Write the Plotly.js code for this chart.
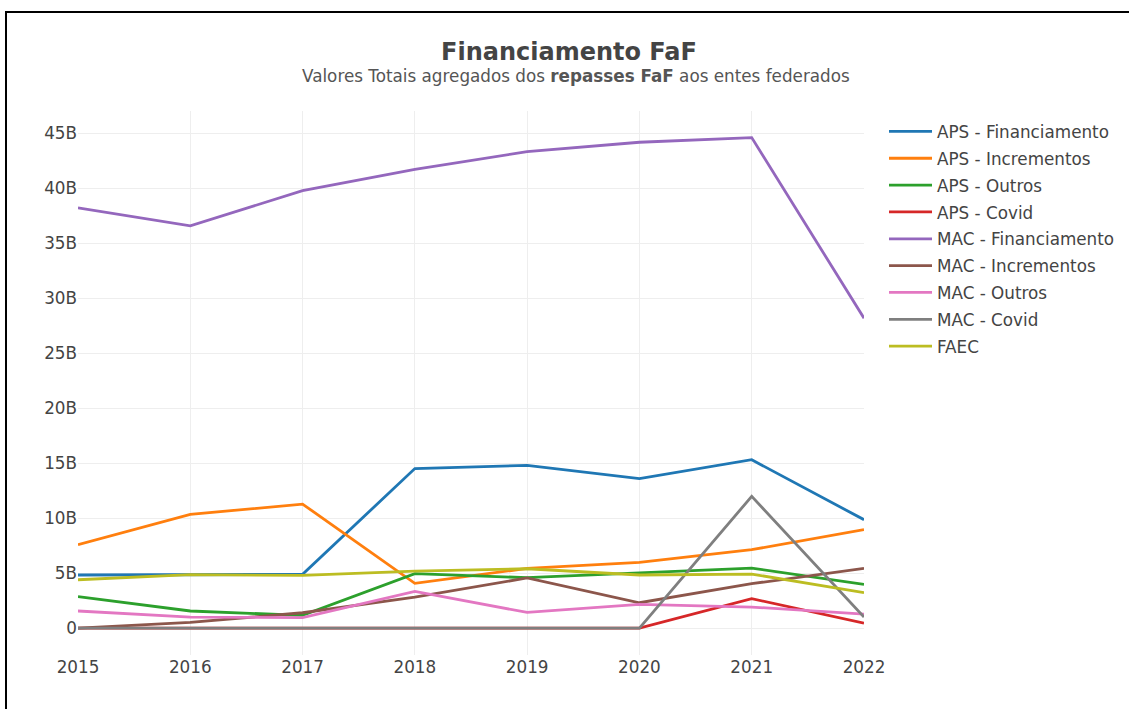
<!DOCTYPE html>
<html>
<head>
<meta charset="utf-8">
<script src="https://cdn.plot.ly/plotly-3.0.1.min.js"></script>
<style>
  html, body { margin: 0; padding: 0; background: #fff; overflow: hidden; }
  #chart { position: absolute; left: 0; top: 0; width: 1129px; height: 709px; }
  #frame { position: absolute; left: 5px; top: 11px; width: 1200px; height: 800px;
           border-top: 2px solid #000; border-left: 2px solid #000; pointer-events: none; }
</style>
</head>
<body>
<div id="chart"></div>
<div id="frame"></div>
<script>
const years = [2015, 2016, 2017, 2018, 2019, 2020, 2021, 2022];

const apsFinanciamento = [4.82e9, 4.88e9, 4.88e9, 14.5e9, 14.79e9, 13.58e9, 15.3e9, 9.85e9];
const apsIncrementos   = [7.58e9, 10.33e9, 11.27e9, 4.06e9, 5.42e9, 5.97e9, 7.12e9, 8.94e9];
const apsOutros        = [2.85e9, 1.55e9, 1.15e9, 4.94e9, 4.58e9, 5.0e9, 5.45e9, 3.97e9];
const apsCovid         = [0, 0, 0, 0, 0, 0, 2.67e9, 0.45e9];
const macFinanciamento = [38.2e9, 36.56e9, 39.76e9, 41.7e9, 43.3e9, 44.16e9, 44.58e9, 28.17e9];
const macIncrementos   = [0, 0.52e9, 1.39e9, 2.82e9, 4.55e9, 2.3e9, 4.03e9, 5.42e9];
const macOutros        = [1.55e9, 1.0e9, 0.94e9, 3.33e9, 1.42e9, 2.15e9, 1.91e9, 1.27e9];
const macCovid         = [0, 0, 0, 0, 0, 0, 11.97e9, 1.0e9];
const faec             = [4.39e9, 4.85e9, 4.79e9, 5.18e9, 5.39e9, 4.82e9, 4.91e9, 3.21e9];

const seriesNames = ["APS - Financiamento", "APS - Incrementos", "APS - Outros", "APS - Covid",
  "MAC - Financiamento", "MAC - Incrementos", "MAC - Outros", "MAC - Covid", "FAEC"];
const seriesValues = [apsFinanciamento, apsIncrementos, apsOutros, apsCovid,
  macFinanciamento, macIncrementos, macOutros, macCovid, faec];
const colors = ["#1f77b4", "#ff7f0e", "#2ca02c", "#d62728", "#9467bd",
  "#8c564b", "#e377c2", "#7f7f7f", "#bcbd22"];

const traces = seriesNames.map((name, i) => ({
  type: "scatter",
  mode: "lines",
  name: name,
  x: years,
  y: seriesValues[i],
  line: { color: colors[i], width: 2.8 },
  legendgroup: "g" + i
}));

const font = { family: "DejaVu Sans, Verdana, sans-serif", size: 16.8, color: "#444" };

const layout = {
  width: 1129,
  height: 709,
  paper_bgcolor: "#fff",
  plot_bgcolor: "#fff",
  font: font,
  margin: { l: 78, r: 265, t: 111, b: 54, pad: 0, autoexpand: false },
  title: {
    text: "<b>Financiamento FaF</b>",
    font: { family: "DejaVu Sans, Verdana, sans-serif", size: 24, color: "#444" },
    x: 569 / 1129,
    xanchor: "center",
    xref: "container",
    y: 1 - 52 / 709,
    yref: "container",
    yanchor: "middle"
  },
  annotations: [{
    text: "Valores Totais agregados dos <b>repasses FaF</b> aos entes federados",
    xref: "paper", yref: "paper",
    x: (576 - 78) / 786, y: (655 - 76) / 544,
    xanchor: "center", yanchor: "middle",
    showarrow: false,
    font: { family: "DejaVu Sans, Verdana, sans-serif", size: 16.8, color: "#555" }
  }],
  xaxis: {
    range: [2015, 2022],
    tickmode: "array",
    tickvals: years,
    ticktext: years.map(String),
    showgrid: true,
    gridcolor: "#eeeeee",
    zeroline: false,
    showline: false,
    ticks: "",
    ticklen: 0
  },
  yaxis: {
    range: [-2.45e9, 47.0e9],
    dtick: 5e9,
    tick0: 0,
    showgrid: true,
    gridcolor: "#eeeeee",
    zeroline: false,
    showline: false,
    exponentformat: "B",
    ticks: "",
    ticklen: 0
  },
  legend: {
    x: 1.0 + 20 / 786,
    xanchor: "left",
    y: 1.0 - 3 / 544,
    yanchor: "top",
    font: font,
    itemwidth: 43,
    tracegroupgap: 2,
    bgcolor: "rgba(0,0,0,0)"
  },
  showlegend: true
};

Plotly.newPlot("chart", traces, layout, { displayModeBar: false, staticPlot: true });
</script>
</body>
</html>
